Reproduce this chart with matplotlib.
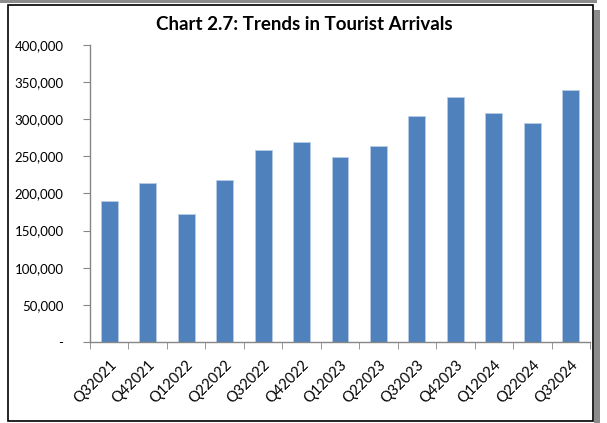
import matplotlib.pyplot as plt
from matplotlib.patches import Rectangle
from matplotlib.ticker import FuncFormatter
from matplotlib.transforms import ScaledTranslation
import numpy as np

plt.rcParams['font.family'] = ['Lato', 'DejaVu Sans']

quarters = ['Q32021', 'Q42021', 'Q12022', 'Q22022', 'Q32022', 'Q42022', 'Q12023',
            'Q22023', 'Q32023', 'Q42023', 'Q12024', 'Q22024', 'Q32024']
arrivals = [190000, 214500, 172400, 218000, 259000, 270000, 249000,
            264000, 305000, 330000, 309000, 295000, 340000]

W, H = 607, 423
fig = plt.figure(figsize=(W / 100, H / 100), dpi=100)

# frame around the chart, with shadow on the right and a strip on top
fig.patches.append(Rectangle((0, 1 - 3 / H), 597 / W, 3 / H, transform=fig.transFigure,
                             facecolor='#8c8c8c', edgecolor='none', zorder=0))
fig.patches.append(Rectangle((594 / W, 0), 6 / W, 1 - 10 / H, transform=fig.transFigure,
                             facecolor='#8c8c8c', edgecolor='none', zorder=0))
fig.patches.append(Rectangle((8 / W, 2 / H), 585 / W, 1 - 7 / H, transform=fig.transFigure,
                             facecolor='white', edgecolor='black', linewidth=1.2, zorder=1))

ax = fig.add_axes([90 / W, (H - 342) / H, 500 / W, 297 / H])
ax.set_zorder(2)
ax.patch.set_alpha(0)

x = np.arange(len(quarters))
ax.bar(x, arrivals, width=0.44, color='#4f81bd', edgecolor='#b8cce4', linewidth=0.6)

ax.set_xlim(-0.5, len(quarters) - 0.5)
ax.set_ylim(0, 400000)
ax.set_yticks(np.arange(0, 400001, 50000))
ax.yaxis.set_major_formatter(FuncFormatter(lambda v, p: '-' if v == 0 else f'{int(v):,}'))

ax.set_xticks(x)
ax.set_xticklabels(quarters, rotation=45, ha='right', rotation_mode='anchor', fontsize=10.5)
shift = ScaledTranslation(5 / 100, 0, fig.dpi_scale_trans)
for lbl in ax.get_xticklabels():
    lbl.set_transform(lbl.get_transform() + shift)
ax.set_xticks(np.arange(-0.5, len(quarters)), minor=True)
ax.tick_params(axis='x', which='major', length=0, pad=11)
ax.tick_params(axis='x', which='minor', length=5, color='#868686', direction='out')
ax.tick_params(axis='y', length=5, color='#868686', labelsize=9.5, pad=14)

for side in ['top', 'right']:
    ax.spines[side].set_visible(False)
for side in ['left', 'bottom']:
    ax.spines[side].set_color('#868686')
    ax.spines[side].set_linewidth(1)

fig.text(304 / W, 1 - 24 / H, 'Chart 2.7: Trends in Tourist Arrivals', ha='center', va='center',
         fontsize=13.5, fontweight='bold', zorder=3)

fig.savefig('out.png', dpi=100)
